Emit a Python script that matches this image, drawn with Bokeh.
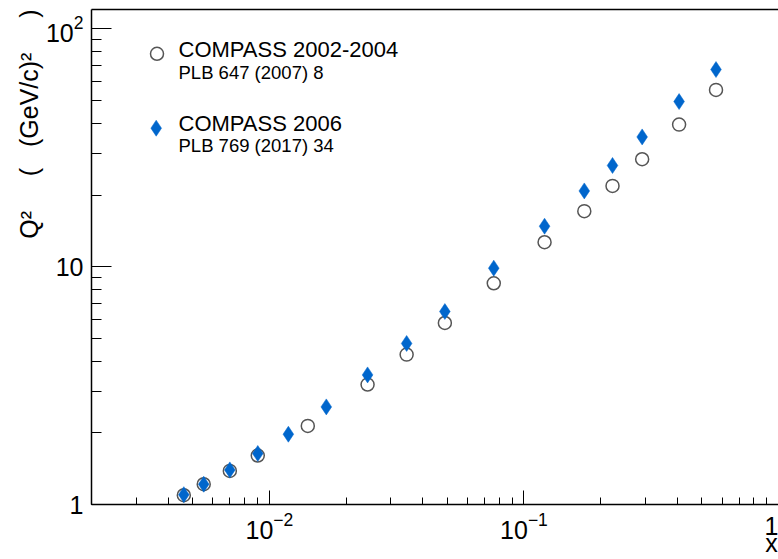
from bokeh.embed import file_html
from bokeh.models import (FixedTicker, Label, LinearScale, LogAxis, LogTicker,
                          LogTickFormatter, Range1d, Title)
from bokeh.plotting import figure
from bokeh.resources import INLINE

# COMPASS 2002-2004 (PLB 647 (2007) 8): bin mean x and Q^2 [(GeV/c)^2]
x_0204 = [0.00461, 0.00552, 0.00699, 0.0090, 0.01415, 0.0243, 0.0346, 0.0489,
          0.0761, 0.1205, 0.1726, 0.2228, 0.2913, 0.4069, 0.5682]
q2_0204 = [1.094, 1.217, 1.384, 1.607, 2.14, 3.196, 4.27, 5.80,
           8.52, 12.68, 17.12, 21.87, 28.32, 39.6, 55.4]

# COMPASS 2006 (PLB 769 (2017) 34)
x_2006 = [0.00461, 0.00552, 0.00699, 0.0090, 0.01187, 0.01673, 0.0243, 0.0346,
          0.0489, 0.0761, 0.1205, 0.1726, 0.2228, 0.2913, 0.4069, 0.5682]
q2_2006 = [1.10, 1.217, 1.398, 1.639, 1.975, 2.573, 3.508, 4.755,
           6.48, 9.86, 14.8, 20.83, 26.65, 35.14, 49.5, 67.5]

legend_titles = ["COMPASS 2002-2004", "COMPASS 2006"]
legend_refs = ["PLB 647 (2007) 8", "PLB 769 (2017) 34"]

NBSP = "\u00a0"
x_title = "x"
y_title = f"Q\u00b2{NBSP * 5}({NBSP * 3}(GeV/c)\u00b2{NBSP * 5})"

x_lo, x_hi = 0.002, 1.0
y_lo, y_hi = 1.0, 120.7

FONT = "Liberation Sans"
BLUE = "#0066cc"
GREY = "#555555"
W, H = 778, 559
LEFT, TOP, BOTTOM = 91, 9, 55
FW, FH = W - LEFT, H - TOP - BOTTOM

p = figure(width=W, height=H, x_axis_type="log", y_axis_type="log",
           x_range=Range1d(x_lo, x_hi), y_range=Range1d(y_lo, y_hi),
           output_backend="svg", toolbar_location=None,
           min_border_left=LEFT, min_border_right=0,
           min_border_top=TOP, min_border_bottom=BOTTOM)
p.outline_line_color = None
p.grid.visible = False
p.background_fill_color = "white"
p.border_fill_color = "white"

# pixel-based frame coordinates for the legend keys
p.extra_x_ranges = {"px": Range1d(0, FW)}
p.extra_y_ranges = {"py": Range1d(0, FH)}
p.extra_x_scales = {"px": LinearScale()}
p.extra_y_scales = {"py": LinearScale()}

for ax, tin, tmin in ((p.xaxis[0], 14, 7), (p.yaxis[0], 20, 10)):
    ax.ticker = LogTicker(num_minor_ticks=10)
    ax.formatter = LogTickFormatter(min_exponent=0)
    ax.major_tick_in = tin
    ax.major_tick_out = 0
    ax.minor_tick_in = tmin
    ax.minor_tick_out = 0
    ax.axis_line_width = 1.5
    ax.axis_line_color = "black"
    ax.major_tick_line_color = "black"
    ax.minor_tick_line_color = "black"
    ax.major_label_text_font = FONT
    ax.major_label_text_font_size = "25px"
    ax.major_label_text_color = "black"

# the x-axis title sits right under the last tick label, at the end of the axis
p.xaxis[0].major_label_overrides = {1: f"1\n{x_title}"}
p.xaxis[0].major_label_text_line_height = 0.62
p.xaxis[0].major_label_standoff = 7
p.yaxis[0].major_label_overrides = {1: "1", 10: "10"}
p.yaxis[0].major_label_standoff = 8

# top edge of the frame
p.add_layout(LogAxis(ticker=FixedTicker(ticks=[]), axis_line_width=1.5,
                     axis_line_color="black", major_label_standoff=0), "above")

# y-axis title, aligned to the top end of the axis
p.add_layout(Title(text=y_title, align="right", text_font=FONT,
                   text_font_size="25px", text_font_style="normal",
                   text_color="black", standoff=0, offset=0), "left")

# open circles first, diamonds on top
p.scatter(x_0204, q2_0204, marker="circle", size=13, fill_color=None,
          line_color=GREY, line_width=1.5)
p.scatter(x_2006, q2_2006, marker="diamond", size=16, fill_color=BLUE,
          line_color=BLUE, line_width=0.5)

# legend keys
p.scatter([156.5 - LEFT], [FH - (53.3 - TOP)], marker="circle", size=13,
          fill_color=None, line_color=GREY, line_width=1.5,
          x_range_name="px", y_range_name="py")
p.scatter([155.7 - LEFT], [FH - (127.7 - TOP)], marker="diamond", size=16,
          fill_color=BLUE, line_color=BLUE, line_width=0.5,
          x_range_name="px", y_range_name="py")


def label_at(text, x, y, size, **kw):
    """Label placed by canvas pixel (x right, y down)."""
    p.add_layout(Label(x=x, y=y, x_units="canvas", y_units="canvas",
                       text=text, text_font=FONT, text_font_size=size,
                       text_color="black", **kw))


for title, ref, base in zip(legend_titles, legend_refs, (49, 122.5)):
    label_at(title, 178, base, "22px", text_baseline="alphabetic")
    label_at(ref, 178, base + 22.5, "18.5px", text_baseline="alphabetic")

open("out.html", "w").write(file_html(p, INLINE))
